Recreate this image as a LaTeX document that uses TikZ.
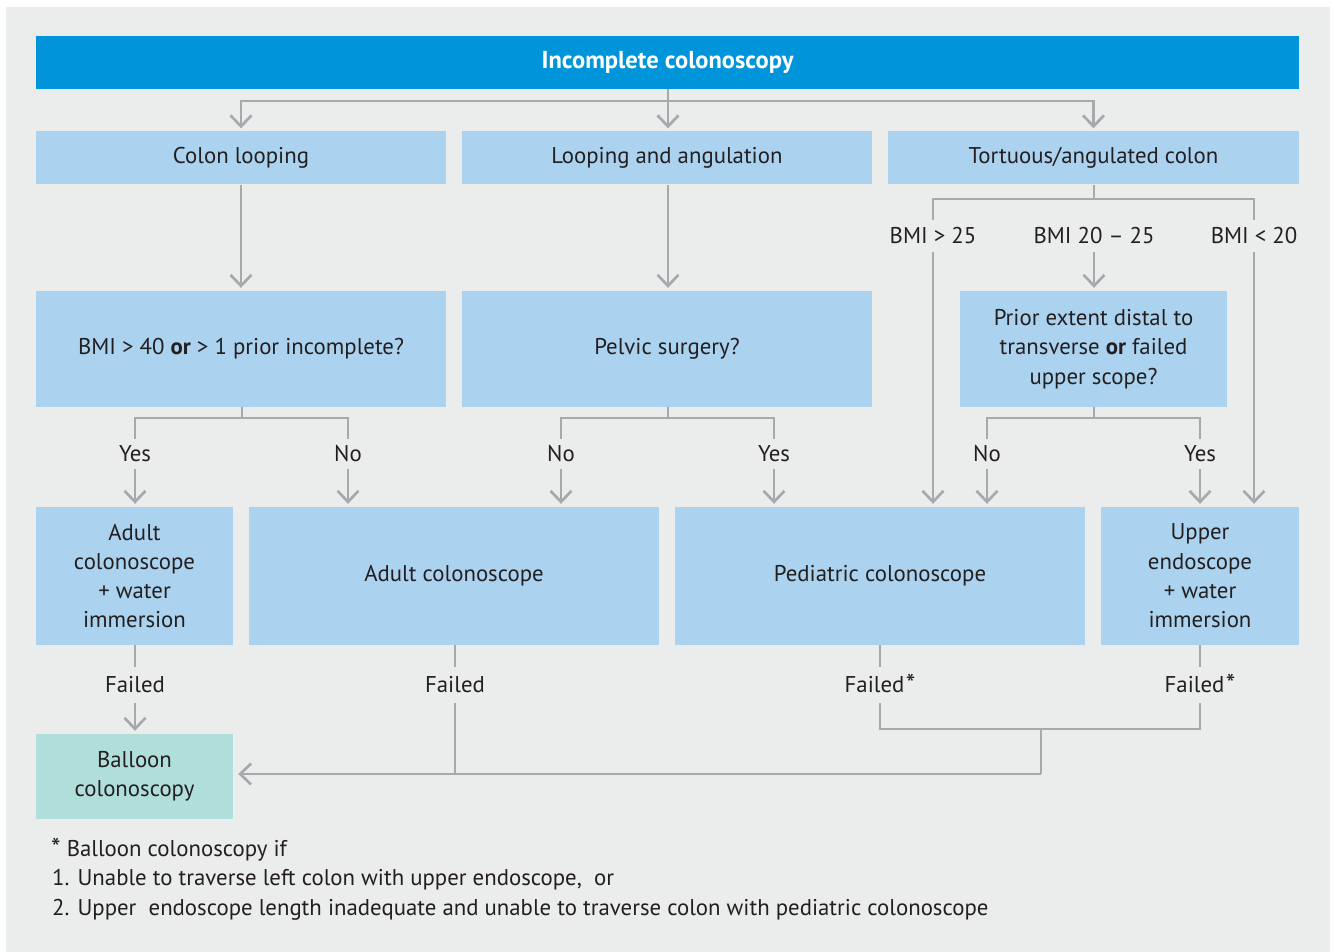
\documentclass[tikz,border=0pt]{standalone}
\usepackage{fontspec}
\setmainfont{PT Sans}
\usetikzlibrary{arrows.meta}
\definecolor{bg}{HTML}{EBECEC}
\definecolor{topc}{HTML}{0095DA}
\definecolor{boxc}{HTML}{ABD3F0}
\definecolor{tealc}{HTML}{B0DEDB}
\definecolor{linec}{HTML}{A7A9AC}
\definecolor{txt}{HTML}{231F20}
\newcommand{\myast}{\smash{\raisebox{-0.05ex}{\fontsize{27}{27}\selectfont *}}}
\tikzset{
  x=1pt, y=-1pt,
  every node/.style={text=txt, font=\fontsize{22.8}{29.3}\selectfont, align=center},
  box/.style={fill=boxc, inner sep=0pt},
  lbl/.style={inner sep=0pt, minimum height=30pt},
  conn/.style={draw=linec, line width=2.7pt},
  arr/.style={conn, -{Straight Barb[length=11pt,width=21pt,line width=2.7pt]}, shorten >=3pt},
}
\begin{document}
\begin{tikzpicture}
\useasboundingbox (0,0) rectangle (1335,952);
\fill[white] (0,0) rectangle (1335,952);
\fill[bg] (6,7) rectangle (1330,952);
% boxes
\node[fill=topc, inner sep=0pt, minimum width=1263pt, minimum height=53pt, text=white, font=\fontsize{24.5}{29}\selectfont\bfseries] (top) at (667.5,62.5) {Incomplete colonoscopy};
\node[box, minimum width=410pt, minimum height=53pt] (cl) at (241,158) {Colon looping};
\node[box, minimum width=410pt, minimum height=53pt] (la) at (667,158) {Looping and angulation};
\node[box, minimum width=411pt, minimum height=53pt] (tc) at (1093.5,158) {Tortuous/angulated colon};
\node[box, minimum width=410pt, minimum height=116pt] (bmi) at (241,349) {BMI > 40 \textbf{or} > 1 prior incomplete?};
\node[box, minimum width=410pt, minimum height=116pt] (pel) at (667,349) {Pelvic surgery?};
\node[box, minimum width=267pt, minimum height=116pt] (pri) at (1093.5,349) {Prior extent distal to\\transverse \textbf{or} failed\\upper scope?};
\node[box, minimum width=197pt, minimum height=138pt] (ac) at (134.5,576) {Adult\\colonoscope\\+ water\\immersion};
\node[box, minimum width=410pt, minimum height=138pt] (adult) at (454,576) {Adult colonoscope};
\node[box, minimum width=410pt, minimum height=138pt] (ped) at (880,576) {Pediatric colonoscope};
\node[box, minimum width=198pt, minimum height=138pt] (up) at (1200,576) {Upper\\endoscope\\+ water\\immersion};
\node[fill=tealc, inner sep=0pt, minimum width=197pt, minimum height=85pt] (bal) at (134.5,776.5) {Balloon\\colonoscopy};
% labels
\node[lbl, minimum height=32pt] (b25) at (933,236) {BMI > 25};
\node[lbl, minimum height=32pt] (b2025) at (1094,236) {BMI 20 – 25};
\node[lbl, minimum height=32pt] (b20) at (1254,236) {BMI < 20};
\node[lbl] (y1) at (135,454) {Yes};
\node[lbl] (n1) at (348,454) {No};
\node[lbl] (n2) at (561,454) {No};
\node[lbl] (y2) at (774,454) {Yes};
\node[lbl] (n3) at (987,454) {No};
\node[lbl] (y3) at (1200,454) {Yes};
\node[lbl, minimum height=36pt] (f1) at (135,685) {Failed};
\node[lbl, minimum height=36pt] (f2) at (455,685) {Failed};
\node[lbl, minimum height=36pt] (f3) at (880,685) {Failed\kern1.5pt\myast};
\node[lbl, minimum height=36pt] (f4) at (1200,685) {Failed\kern1.5pt\myast};
% junctions
\coordinate (j1) at (668,101);
\coordinate (j2) at (1094,199);
\coordinate (j3) at (242,418);
\coordinate (j4) at (668,418);
\coordinate (j5) at (1094,418);
\coordinate (j6) at (1041,729);
\coordinate (j7) at (1041,774);
\coordinate (j8) at (455,774);
% connectors
\draw[conn] (top.south -| j1) -- (j1);
\draw[arr] (j1) -| (cl.north);
\draw[arr] (j1) -- (j1 |- la.north);
\draw[arr] (j1) -| (tc.north);
\draw[arr] (cl.south) -- (bmi.north);
\draw[arr] (j1 |- la.south) -- (j1 |- pel.north);
\draw[conn] (j2 |- tc.south) -- (j2);
\draw[conn] (j2) -| (b25.north);
\draw[conn] (j2) -| (b20.north);
\draw[arr] (b2025.south) -- (b2025.south |- pri.north);
\draw[arr] (b25.south) -- (b25.south |- ped.north);
\draw[arr] (b20.south) -- (b20.south |- up.north);
\draw[conn] (j3 |- bmi.south) -- (j3);
\draw[conn] (y1.north) |- (j3) -| (n1.north);
\draw[conn] (j4 |- pel.south) -- (j4);
\draw[conn] (n2.north) |- (j4) -| (y2.north);
\draw[conn] (j5 |- pri.south) -- (j5);
\draw[conn] (n3.north) |- (j5) -| (y3.north);
\draw[arr] (y1.south) -- (y1.south |- ac.north);
\draw[arr] (n1.south) -- (n1.south |- adult.north);
\draw[arr] (n2.south) -- (n2.south |- ped.north);
\draw[arr] (y2.south) -- (y2.south |- ped.north);
\draw[arr] (n3.south) -- (n3.south |- ped.north);
\draw[arr] (y3.south) -- (y3.south |- up.north);
\draw[conn] (f1.north |- ac.south) -- (f1.north);
\draw[arr] (f1.south) -- (f1.south |- bal.north);
\draw[conn] (f2.north |- adult.south) -- (f2.north);
\draw[conn] (f3.north |- ped.south) -- (f3.north);
\draw[conn] (f4.north |- up.south) -- (f4.north);
\draw[conn] (f2.south) -- (j8);
\draw[conn] (f3.south) |- (j6) -| (f4.south);
\draw[conn] (j6) -- (j7);
\draw[arr, shorten >=5pt] (j7) -- (j7 -| bal.east);
% footnote
\node[anchor=west, inner sep=0pt] (fn0) at (51,851) {\myast\ Balloon colonoscopy if};
\node[anchor=west, inner sep=0pt] (fn1) at (52,880) {1. Unable to traverse left colon with upper endoscope,\ \ or};
\node[anchor=west, inner sep=0pt] (fn2) at (52,910) {2. Upper\ \ endoscope length inadequate and unable to traverse colon with pediatric colonoscope};
\end{tikzpicture}
\end{document}
